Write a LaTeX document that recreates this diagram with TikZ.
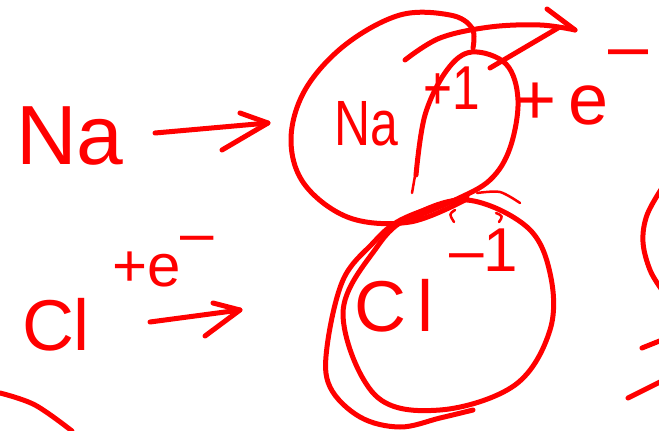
\documentclass[tikz,border=0pt]{standalone}
\usepackage{graphicx}
\usepackage{fontspec}
\setmainfont{Liberation Sans}
\begin{document}
\begin{tikzpicture}[x=1pt,y=-1pt,
  ink/.style={draw=red, line width=5pt, line cap=round, line join=round},
  thin ink/.style={draw=red, line width=2.5pt, line cap=round, line join=round},
  lbl/.style={text=red, inner sep=0pt, anchor=center},
  huge/.style={font=\fontsize{84}{84}\selectfont},
  large/.style={font=\fontsize{72}{72}\selectfont},
  mid/.style={font=\fontsize{64}{64}\selectfont},
  small/.style={font=\fontsize{62}{62}\selectfont}]
\useasboundingbox (0,0) rectangle (659,431);

% ---- labels ----
\node[lbl,mid] (naion) at (366,124) {\scalebox{0.78}[1]{Na}};
\node[lbl,huge] (na) at (70,136) {Na};
\node[lbl,small] (plusone) at (452,88) {\scalebox{0.8}[1]{+1}};
\node[lbl,large,anchor=west] (eright) at (514,88) {+\,e\raisebox{0.75em}{–}};
\node[lbl,large] (cl) at (56,325) {Cl};
\node[lbl,font=\fontsize{60}{60}\selectfont,anchor=west] (eleft) at (112,262) {+e\raisebox{0.55em}{–}};
\node[lbl,large] (clion) at (394,306) {C\,l};
\node[lbl,small] (minusone) at (484,250) {–1};

% ---- arrow Na -> Na+ ----
\coordinate (a1s) at (155,133);
\coordinate (a1t) at (268,123);
\draw[ink] (a1s) -- (a1t);
\draw[ink] (240,113) -- (a1t) -- (222,150);

% ---- arrow Cl -> Cl- ----
\coordinate (a2s) at (150,322);
\coordinate (a2t) at (240,310);
\draw[ink] (a2s) -- (a2t);
\draw[ink] (213,303) -- (a2t) -- (205,336);

% ---- Na+ loops ----
\draw[ink] plot[smooth, tension=0.6] coordinates {(465,200) (410,222) (350,218) (305,185) (291,140) (305,90) (345,45) (400,15) (450,15) (472,28) (473,48)};
\draw[ink] plot[smooth, tension=0.6] coordinates {(416,175) (425,115) (447,70) (472,52) (506,64) (518,100) (510,148) (490,180) (455,200) (412,218)};
\draw[thin ink] (412,193) -- (416,170);

% ---- electron transfer arrow ----
\coordinate (etip) at (575,30);
\draw[ink] plot[smooth, tension=0.6] coordinates {(405,60) (440,38) (490,27) (540,25) (etip)};
\draw[ink] (547,9) -- (etip);
\draw[ink] (490,68) -- (558,28);

% ---- Cl- loops ----
\draw[ink] plot[smooth cycle, tension=0.6] coordinates {(467,200) (527,227) (550,273) (550,330) (515,385) (440,410) (375,395) (343,313) (377,247) (410,217)};
\draw[ink] plot[smooth, tension=0.6] coordinates {(467,197) (433,207) (397,222) (373,243) (343,280) (327,347) (330,387) (360,417) (400,427) (440,418) (473,410)};
\draw[thin ink] plot[smooth] coordinates {(477,193) (500,192) (520,203)};
\draw[thin ink] (455,210) .. controls (449,214) .. (454,222);
\draw[thin ink] (496,213) .. controls (503,216) .. (499,222);

% ---- fragments at the edges ----
\draw[ink] plot[smooth, tension=0.6] coordinates {(0,393) (35,405) (72,431)};
\draw[ink] plot[smooth, tension=0.6] coordinates {(662,188) (647,215) (643,242) (650,270) (662,290)};
\draw[ink] (642,348) -- (662,340);
\draw[ink] (628,398) -- (662,381);
\end{tikzpicture}
\end{document}
